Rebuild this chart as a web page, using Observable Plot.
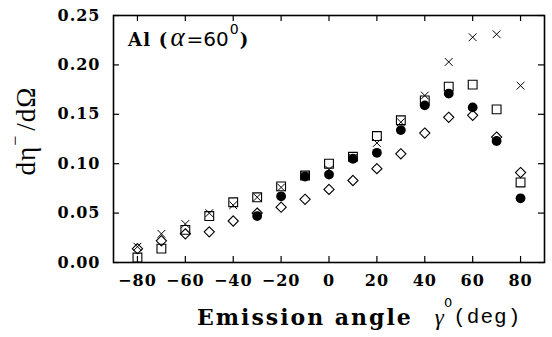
<!DOCTYPE html>
<html><head><meta charset="utf-8">
<script src="https://cdn.jsdelivr.net/npm/d3@7"></script>
<script src="https://cdn.jsdelivr.net/npm/@observablehq/plot@0.6"></script>
<style>body{margin:0;background:#fff}</style>
</head><body><div id="chart"></div>
<script>
const angles = [-80,-70,-60,-50,-40,-30,-20,-10,0,10,20,30,40,50,60,70,80];
const crossValues = [0.016,0.029,0.039,0.050,0.058,0.066,0.076,0.088,0.094,0.106,0.121,0.142,0.169,0.203,0.228,0.231,0.179];
const squareValues = [0.005,0.014,0.033,0.047,0.061,0.066,0.077,0.088,0.100,0.107,0.128,0.144,0.164,0.178,0.180,0.155,0.081];
const diamondValues = [0.014,0.022,0.029,0.031,0.042,0.050,0.056,0.064,0.074,0.083,0.095,0.110,0.131,0.147,0.149,0.127,0.091];
const circleAngles = [-30,-20,-10,0,10,20,30,40,50,60,70,80];
const circleValues = [0.047,0.067,0.087,0.089,0.105,0.111,0.134,0.159,0.171,0.157,0.123,0.065];
const xTicks = [-80,-60,-40,-20,0,20,40,60,80];
const yTicks = [0,0.05,0.10,0.15,0.20,0.25];

const W = 552, H = 337, mL = 113, mR = 8, mT = 15, mB = 75;
const fw = W - mL - mR, fh = H - mT - mB;

const crosses = angles.map((a, i) => ({a, v: crossValues[i]}));
const squares = angles.map((a, i) => ({a, v: squareValues[i]}));
const diamonds = angles.map((a, i) => ({a, v: diamondValues[i]}));
const circles = circleAngles.map((a, i) => ({a, v: circleValues[i]}));

const tickFont = {fontFamily: "DejaVu Serif", fontSize: 16, fontWeight: "bold"};

const svg = Plot.plot({
  width: W, height: H,
  marginLeft: mL, marginRight: mR, marginTop: mT, marginBottom: mB,
  style: {background: "#fff", color: "#000", letterSpacing: "1px"},
  x: {domain: [-90, 90]},
  y: {domain: [0, 0.25]},
  marks: [
    Plot.axisX(xTicks, {anchor: "bottom", tickSize: 0, tickPadding: 12, label: null,
      tickFormat: d => d < 0 ? "\u2212" + (-d) : String(d), ...tickFont}),
    Plot.axisY(yTicks, {anchor: "left", tickSize: 0, tickPadding: 13, label: null,
      tickFormat: d3.format(".2f"), ...tickFont}),
    Plot.tickX(xTicks, {x: d => d, insetTop: fh - 6, stroke: "#000", strokeWidth: 1.2}),
    Plot.tickX(xTicks, {x: d => d, insetBottom: fh - 6, stroke: "#000", strokeWidth: 1.2}),
    Plot.tickY(yTicks, {y: d => d, insetRight: fw - 6, stroke: "#000", strokeWidth: 1.2}),
    Plot.tickY(yTicks, {y: d => d, insetLeft: fw - 6, stroke: "#000", strokeWidth: 1.2}),
    Plot.frame({stroke: "#000", strokeWidth: 1.6}),
    Plot.dot(diamonds, {x: "a", y: "v", symbol: "diamond2", r: 4.6, stroke: "#000", fill: "none", strokeWidth: 1.1}),
    Plot.dot(squares, {x: "a", y: "v", symbol: "square2", r: 5.6, stroke: "#000", fill: "none", strokeWidth: 1.1}),
    Plot.dot(crosses, {x: "a", y: "v", symbol: "times", r: 3.6, stroke: "#000", fill: "none", strokeWidth: 1.0}),
    Plot.dot(circles, {x: "a", y: "v", r: 4.9, fill: "#000", stroke: "none"})
  ]
});

const s = d3.select(svg);
// Annotation
const ann = s.append("text").attr("x", 128).attr("y", 46).attr("fill", "#000")
  .attr("text-anchor", "start").style("letter-spacing", "0px");
ann.append("tspan").attr("font-family", "DejaVu Serif").attr("font-weight", "bold").attr("font-size", 18)
  .style("letter-spacing", "1.2px").text("Al (");
ann.append("tspan").attr("font-family", "Liberation Serif").attr("font-style", "italic").attr("font-size", 27).attr("dx", 2).text("\u03b1");
ann.append("tspan").attr("font-family", "DejaVu Sans").attr("font-size", 20).attr("dx", 2).text("=60");
ann.append("tspan").attr("font-family", "DejaVu Sans").attr("font-size", 14).attr("dy", -12).attr("dx", 1).text("0");
ann.append("tspan").attr("font-family", "DejaVu Serif").attr("font-weight", "bold").attr("font-size", 18).attr("dy", 12).attr("dx", 1).text(")");

// X label
const xl = s.append("text").attr("x", 197).attr("y", 325).attr("fill", "#000").attr("text-anchor", "start");
xl.append("tspan").attr("font-family", "DejaVu Serif").attr("font-weight", "bold").attr("font-size", 22)
  .style("letter-spacing", "2px").text("Emission angle");
xl.append("tspan").attr("font-family", "Liberation Serif").attr("font-style", "italic").attr("font-size", 23).attr("dx", 22).text("\u03b3");
xl.append("tspan").attr("font-family", "DejaVu Sans").attr("font-size", 13).attr("dy", -18).attr("dx", -1).text("0");
xl.append("tspan").attr("font-family", "Liberation Mono").attr("font-size", 21).attr("dy", 16).attr("dx", 0).text("(deg)");

// Y label
const yl = s.append("text").attr("transform", "translate(35,131) rotate(-90)").attr("text-anchor", "middle").attr("fill", "#000")
  .attr("font-family", "Liberation Serif").attr("font-size", 27).style("letter-spacing", "1px");
yl.append("tspan").text("d\u03b7");
yl.append("tspan").attr("font-size", 18).attr("dy", -14).text("\u2212");
yl.append("tspan").attr("dy", 14).attr("dx", 4).text("/d\u03a9");

document.getElementById("chart").appendChild(svg);
</script>
</body></html>
